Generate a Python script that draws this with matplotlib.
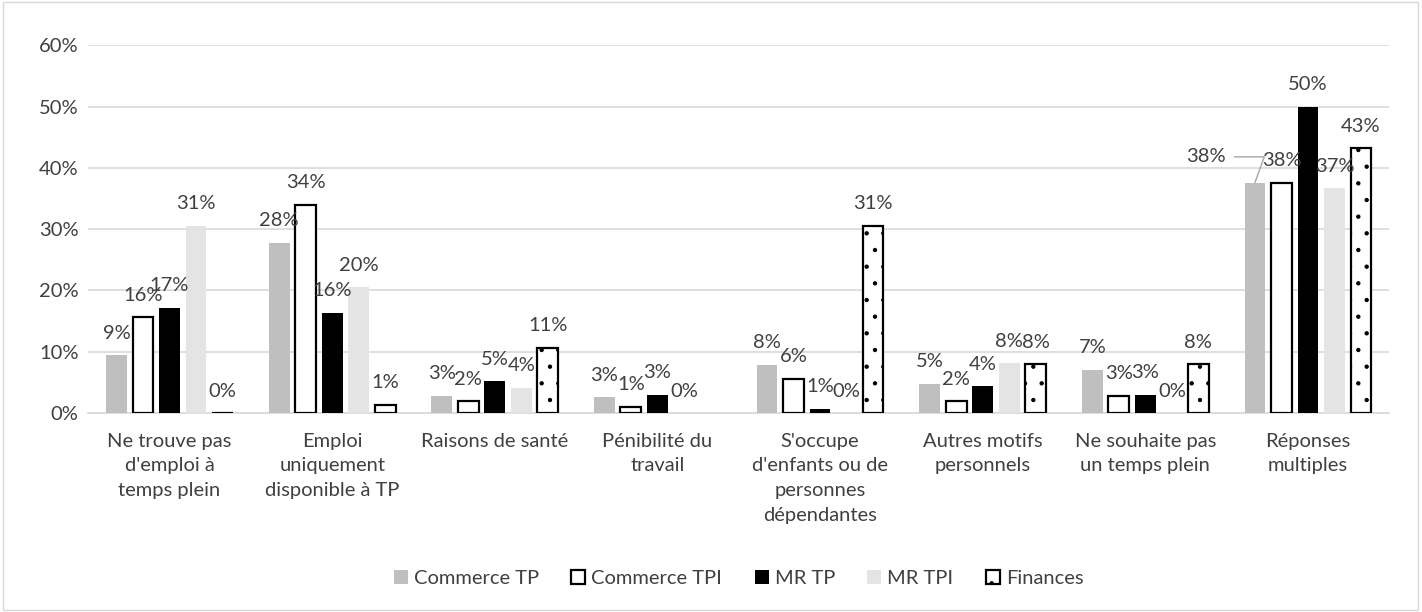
import numpy as np
import matplotlib
matplotlib.use("Agg")
import matplotlib.pyplot as plt
from matplotlib.patches import Rectangle

plt.rcParams['font.family'] = ['Lato', 'DejaVu Sans']
plt.rcParams['hatch.linewidth'] = 0.7

categories = ["Ne trouve pas\nd'emploi à\ntemps plein",
              "Emploi\nuniquement\ndisponible à TP",
              "Raisons de santé",
              "Pénibilité du\ntravail",
              "S'occupe\nd'enfants ou de\npersonnes\ndépendantes",
              "Autres motifs\npersonnels",
              "Ne souhaite pas\nun temps plein",
              "Réponses\nmultiples"]

series = ["Commerce TP", "Commerce TPI", "MR TP", "MR TPI", "Finances"]

commerce_tp = [9.4, 27.8, 2.8, 2.6, 7.9, 4.8, 7.1, 37.6]
commerce_tpi = [15.6, 34.0, 1.9, 1.0, 5.6, 1.9, 2.8, 37.6]
mr_tp = [17.2, 16.4, 5.2, 3.0, 0.7, 4.4, 3.0, 50.0]
mr_tpi = [30.6, 20.5, 4.1, 0.0, 0.0, 8.1, 0.0, 36.7]
finances = [0.0, 1.4, 10.7, np.nan, 30.6, 8.0, 8.0, 43.2]

values = [commerce_tp, commerce_tpi, mr_tp, mr_tpi, finances]
facecols = ["#bfbfbf", "white", "black", "#e4e4e4", "white"]
edgecols = ["#bfbfbf", "black", "black", "#e4e4e4", "black"]
hatches = [None, None, None, None, '.']
lws = [0, 1.6, 0, 0, 1.6]

txt = "#404040"
fs = 14.5

fig = plt.figure(figsize=(14.22, 6.12), dpi=100)
ax = fig.add_axes([0.062, 0.325, 0.915, 0.601])

x = np.arange(len(categories))
step = 0.163
width = 0.128

for i, (name, vals) in enumerate(zip(series, values)):
    pos = x + (i - 2) * step
    v = np.array(vals) / 100
    ax.bar(pos, v, width, color=facecols[i], edgecolor=edgecols[i],
           linewidth=lws[i], hatch=hatches[i], label=name, zorder=3)
    for j, (p, val) in enumerate(zip(pos, vals)):
        if np.isnan(val):
            continue
        if i == 0 and j == 7:
            # label pushed left with a leader line
            ax.annotate(f"{val:.0f}%", xy=(p, val / 100), xytext=(p - 0.3, val / 100 + 0.042),
                        ha='center', va='center', fontsize=fs, color=txt,
                        arrowprops=dict(arrowstyle='-', color='#a6a6a6', lw=1, shrinkA=4, shrinkB=0,
                                        connectionstyle='angle,angleA=0,angleB=70,rad=0'))
            continue
        ax.text(p, val / 100 + 0.022, f"{val:.0f}%", ha='center', va='bottom',
                fontsize=fs, color=txt, zorder=4)

ax.set_ylim(0, 0.6)
ax.set_xlim(-0.5, len(categories) - 0.5)
ticks = np.arange(0, 0.61, 0.1)
ax.set_yticks(ticks)
ax.set_yticklabels([f"{round(t * 100)}%" for t in ticks])
ax.grid(axis='y', color='#d9d9d9', linewidth=1.2, zorder=0)
ax.set_axisbelow(True)
for s in ['left', 'right', 'top']:
    ax.spines[s].set_visible(False)
ax.spines['bottom'].set_color('#d9d9d9')
ax.spines['bottom'].set_linewidth(1.2)
ax.tick_params(axis='both', length=0, labelsize=fs, colors=txt)
ax.tick_params(axis='y', pad=7)
ax.set_xticks(x)
ax.set_xticklabels(categories, va='top', linespacing=1.55)
ax.tick_params(axis='x', pad=14)

ax.legend(loc='center', bbox_to_anchor=(0.5, -0.45), ncol=5, frameon=False,
          fontsize=fs, labelcolor=txt, handlelength=0.7, handleheight=0.7,
          handletextpad=0.3, columnspacing=1.6)

fig.patches.append(Rectangle((0.002, 0.003), 0.995, 0.993, transform=fig.transFigure,
                             fill=False, edgecolor='#d9d9d9', linewidth=1))

fig.savefig("out.png", dpi=100, facecolor='white')
